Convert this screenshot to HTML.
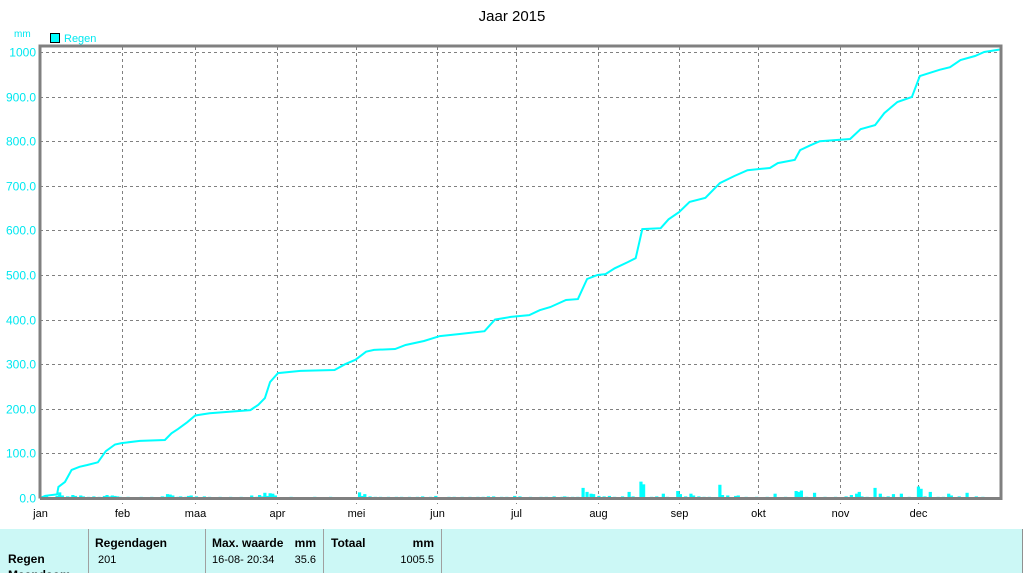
<!DOCTYPE html>
<html><head><meta charset="utf-8"><style>
body{margin:0;width:1024px;height:573px;overflow:hidden;background:#fff;font-family:"Liberation Sans",sans-serif;}
svg{position:absolute;left:0;top:0}
</style></head><body>
<svg id="chart" width="1024" height="573" xmlns="http://www.w3.org/2000/svg">
<text x="512" y="21" font-size="15" text-anchor="middle">Jaar 2015</text>
<text x="14" y="37" font-size="10" fill="#00e8f0">mm</text>
<g><rect x="50.5" y="33.5" width="9" height="9" fill="#00ffff" stroke="#000"/><text x="64" y="42" font-size="11" fill="#00e8f0">Regen</text></g>
<g id="grid"></g><g id="bars"></g><g id="line"></g><g id="axes"></g>
<g>
<rect x="0" y="529" width="1022" height="44" fill="#ccf8f6"/>
<line x1="1022.5" y1="529" x2="1022.5" y2="573" stroke="#909090"/>
<line x1="88.5" y1="529" x2="88.5" y2="573" stroke="#a0a0a0"/>
<line x1="205.5" y1="529" x2="205.5" y2="573" stroke="#a0a0a0"/>
<line x1="323.5" y1="529" x2="323.5" y2="573" stroke="#a0a0a0"/>
<line x1="441.5" y1="529" x2="441.5" y2="573" stroke="#a0a0a0"/>
<g font-size="12" font-weight="bold">
<text x="95" y="547">Regendagen</text>
<text x="212" y="547">Max. waarde</text><text x="316" y="547" text-anchor="end">mm</text>
<text x="331" y="547">Totaal</text><text x="434" y="547" text-anchor="end">mm</text>
<text x="8" y="563">Regen</text><text x="8" y="579">Maandsom</text>
</g>
<g font-size="11">
<text x="98" y="563">201</text>
<text x="212" y="563">16-08-  20:34</text><text x="316" y="563" text-anchor="end">35.6</text>
<text x="434" y="563" text-anchor="end">1005.5</text>
</g></g>
</svg>
<script>
const cumDays=[0,2,6.5,7,9.5,12,15,18,22,25,28.5,31,38,47.5,50,52.5,56,59,64.5,80,83,85.5,87.5,90.5,99,112,116,120,124,127,135,139,146,152,160,169,173,179,186,190,194,200,204.5,208,212,215,218.5,223.5,226.5,229,236,239,243,247,253,258.5,264,269,277.5,280.5,287,289,293,296.5,308,312,317.5,321,326,331.5,334.5,342,346,350,355.5,359,365];
const cumValues=[0,5,8,25,36,63,70,74,80,105,120,123,128,130,145,155,170,185,190,197,209,224,260,280,285,287,300,310,328,332,334,343,352,363,368,374,400,406,410,421,428,444,446,491,500,502,515,529,538,603,605,625,641,664,673,706,722,735,740,751,758,780,791,800,805,827,836,863,888,899,946,960,966,982,991,1000,1005.5];
const rainDays=[1,2,6,7,8,10,11,12,13,15,16,18,20,22,24,25,26,27,28,29,30,33,38,42,46,47,48,49,50,52,53,55,56,57,59,62,64,68,72,76,80,82,83,84,85,86,87,88,89,95,104,110,121,122,123,125,127,129,132,135,137,140,143,145,148,150,155,157,160,163,166,168,170,172,175,177,180,182,186,190,192,195,198,199,200,202,204,206,207.5,209,210,212,214,216,218,221,223.5,225,228,229,232,234,236.5,238,242,243,245,247,248,250,252,254,258,259,261,264,265,268,272,276,279,283,287,288,289,291,294,298,302,306,308,310,311,312,314,317,319,320,322,324,327,330,333.5,334.5,336,338,341,343,345,346,349,352,355.5,358,362];
const rainAmounts=[3,4,4,12,5,3,2,6,4,5,3,2,3,2,4,6,3,5,4,3,2,2,2,2,3,2,8,7,5,2,3,2,4,5,3,3,2,2,2,2,5,2,6,3,11,4,10,9,5,2,2,2,12,4,8,3,2,2,2,2,2,2,2,3,2,4,2,2,2,2,2,2,3,3,2,2,4,3,2,2,2,3,2,3,2,2,2,22,13,9,8,4,3,4,2,3,13,3,36,30,2,3,9,2,15,8,3,9,5,3,2,2,29,6,5,4,5,2,2,2,9,2,15,13,16,2,11,2,2,3,6,9,13,3,2,22,9,2,3,8,9,2,25,20,3,13,2,2,9,5,3,11,3,2];
const yTicks=[0,100,200,300,400,500,600,700,800,900,1000];
const yTickLabels=["0.0","100.0","200.0","300.0","400.0","500.0","600.0","700.0","800.0","900.0","1000"];
const monthStarts=[0,31,59,90,120,151,181,212,243,273,304,334];
const monthLabels=["jan","feb","maa","apr","mei","jun","jul","aug","sep","okt","nov","dec"];
const X0=40,X1=1000,Y0=498,Y1=52;
const xs=d=>X0+d*(X1-X0)/365;
const ys=v=>Y0-v*(Y0-Y1)/1000;
const NS="http://www.w3.org/2000/svg";
function mk(p,t,a){const e=document.createElementNS(NS,t);for(const k in a)e.setAttribute(k,a[k]);document.getElementById(p).appendChild(e);return e;}
yTicks.forEach((v,i)=>{
 const y=Math.round(ys(v))+0.5;
 const g=mk('grid','line',{x1:X0,x2:X1,y1:y,y2:y,stroke:'#808080','stroke-dasharray':'3,3'});
 
 
 const t=mk('axes','text',{x:36,y:y+4,'font-size':12,fill:'#00e8f0','text-anchor':'end'});
 t.textContent=yTickLabels[i];
 
 
});
monthStarts.forEach((d,i)=>{
 const x=Math.round(xs(d))+0.5;
 if(i>0){const g=mk('grid','line',{x1:x,x2:x,y1:Y1-5,y2:Y0+6,stroke:'#808080','stroke-dasharray':'3,3'});
 
 }
 const t=mk('axes','text',{x:x,y:517,'font-size':11,'text-anchor':'middle'});
 t.textContent=monthLabels[i];
 
 
});
rainDays.forEach((d,i)=>{
 const h=rainAmounts[i]*(Y0-Y1)/1000;
 const r=mk('bars','rect',{x:xs(d),y:Y0-h,width:2.6,height:h,fill:'#00ffff',stroke:'#00ffff','stroke-width':0.6});
 
 
});
const pts=cumDays.map((d,i)=>xs(d).toFixed(1)+','+ys(cumValues[i]).toFixed(1)).join(' ');
const pl=mk('line','polyline',{points:pts,fill:'none',stroke:'#00ffff','stroke-width':2,'stroke-linejoin':'miter'});


const fr=mk('axes','path',{d:`M${X0},${Y0+0.5} V${Y1-6} H${X1+1} V${Y0+0.5} H${X0}`,fill:'none',stroke:'#808080','stroke-width':3});


</script>
</body></html>
